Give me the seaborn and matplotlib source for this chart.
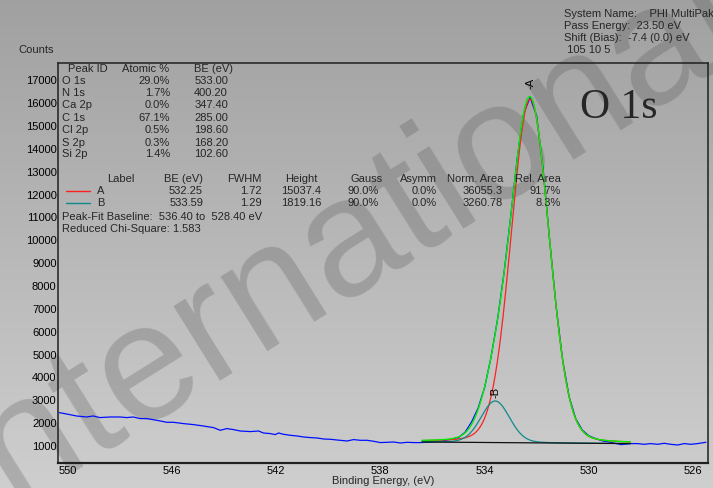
import numpy as np
import pandas as pd
import matplotlib
matplotlib.use("Agg")
import matplotlib.pyplot as plt
import seaborn as sns

# ---------------- data ----------------
# raw spectrum (binding energy eV, counts)
raw_be = [550.33, 549.99, 549.67, 549.28, 549.03, 548.77, 548.38, 548.00, 547.74, 547.49,
          547.23, 546.97, 546.59, 546.20, 545.94, 545.56, 545.18, 544.80, 544.41, 544.15,
          543.90, 543.64, 543.38, 543.00, 542.68, 542.49, 542.23, 542.04, 541.91, 541.72,
          541.46, 541.20, 540.95, 540.69, 540.43, 540.18, 539.92, 539.67, 539.28, 539.03,
          538.77, 538.51, 538.26, 538.00, 537.74, 537.49, 537.23, 536.97, 536.72, 536.46,
          536.25, 536.00, 535.75, 535.50, 535.25, 535.00, 534.75, 534.50, 534.25, 534.00,
          533.75, 533.50, 533.25, 533.00, 532.75, 532.50, 532.25, 532.00, 531.75, 531.50,
          531.25, 531.00, 530.75, 530.50, 530.25, 530.00, 529.75, 529.50, 529.25, 529.00,
          528.75, 528.38, 528.13, 527.87, 527.62, 527.36, 527.10, 526.85, 526.59, 526.33,
          526.08, 525.82, 525.50]
raw_counts = [2461, 2387, 2313, 2269, 2313, 2243, 2269, 2269, 2243, 2269,
              2199, 2199, 2125, 2037, 2037, 1980, 1936, 1875, 1805, 1687,
              1761, 1718, 1656, 1630, 1656, 1569, 1543, 1499, 1569, 1512,
              1468, 1438, 1394, 1368, 1350, 1306, 1293, 1263, 1219, 1280,
              1249, 1249, 1206, 1149, 1162, 1175, 1131, 1162, 1149, 1149,
              1160, 1175, 1200, 1250, 1300, 1370, 1600, 2050, 2650, 3550,
              4900, 6550, 8600, 11000, 13550, 15550, 16250, 15450, 13100, 10000,
              7100, 4750, 3150, 2200, 1700, 1450, 1330, 1230, 1180, 1120,
              1060, 1105, 1105, 1074, 1105, 1074, 1118, 1074, 1044, 1105,
              1074, 1105, 1162]

# peak-fit table
fit_labels = ["A", "B"]
fit_be = [532.25, 533.59]
fit_fwhm = [1.72, 1.29]
fit_height = [15037.4, 1819.16]
fit_gauss = [90.0, 90.0]
fit_asymm = [0.0, 0.0]
fit_norm_area = [36055.3, 3260.78]
fit_rel_area = [91.7, 8.3]
fit_colors = ["#ff2020", "#108a8a"]

# baseline (start/end BE and counts)
base_be = [536.40, 528.40]
base_counts = [1175, 1105]

# element table
elem_names = ["O 1s", "N 1s", "Ca 2p", "C 1s", "Cl 2p", "S 2p", "Si 2p"]
elem_atomic = [29.0, 1.7, 0.0, 67.1, 0.5, 0.3, 1.4]
elem_be = [533.00, 400.20, 347.40, 285.00, 198.60, 168.20, 102.60]

info_lines = ["System Name:    PHI MultiPak", "Pass Energy:  23.50 eV",
              "Shift (Bias):  -7.4 (0.0) eV", " 105 10 5"]

x_major = [550, 546, 542, 538, 534, 530, 526]
y_major = list(range(1000, 18000, 1000))

# ---------------- figure ----------------
sns.set_theme(style="white")
plt.rcParams['font.family'] = ['Liberation Sans', 'DejaVu Sans']

W, H = 713, 488
fig = plt.figure(figsize=(W / 100, H / 100), dpi=100)


def fx(x):
    return x / W


def fy(y):
    return 1 - y / H


# gradient background + watermark
bg = fig.add_axes([0, 0, 1, 1], zorder=-5)
grad = np.linspace(0.63, 0.81, 256)
img = np.dstack([grad[:, None]] * 3)
bg.imshow(img, aspect='auto', extent=[0, 1, 0, 1], origin='upper')
bg.set_xlim(0, 1)
bg.set_ylim(0, 1)
bg.axis('off')
bg.text(fx(340), fy(246), "International", rotation=32, ha='center', va='center',
        fontsize=120, color=(0.3, 0.3, 0.3), alpha=0.26, transform=bg.transAxes)

ax = fig.add_axes([fx(58), fy(463), fx(708) - fx(58), fy(63) - fy(463)])
ax.patch.set_alpha(0)

df_raw = pd.DataFrame({"be": raw_be, "counts": raw_counts})
sns.lineplot(data=df_raw, x="be", y="counts", ax=ax, color="#0010ff", lw=0.9,
             sort=False, estimator=None)

grid = np.linspace(base_be[0], base_be[1], 240)
baseline = np.interp(grid, base_be[::-1], base_counts[::-1])
comps = []
for c, f, h, g in zip(fit_be, fit_fwhm, fit_height, fit_gauss):
    u = ((grid - c) / f) ** 2
    gm = g / 100.0
    comps.append(h * (gm * np.exp(-4 * np.log(2) * u) + (1 - gm) / (1 + 4 * u)))
envelope = baseline + sum(comps)

for comp, col in zip(comps, fit_colors):
    sns.lineplot(x=grid, y=baseline + comp, ax=ax, color=col, lw=0.9,
                 sort=False, estimator=None)
sns.lineplot(x=grid, y=baseline, ax=ax, color="#101010", lw=0.9, sort=False, estimator=None)
sns.lineplot(x=grid, y=envelope, ax=ax, color="#00ee00", lw=1.0, sort=False, estimator=None)

# peak labels
for lab, c, h, off in zip(fit_labels, fit_be, fit_height, [7, 2.5]):
    top = np.interp(c, base_be[::-1], base_counts[::-1]) + h
    ax.annotate("-" + lab, xy=(c, top), xytext=(0, off), textcoords='offset points',
                rotation=90, ha='center', va='bottom', fontsize=8, color='black')

ax.set_xlim(550.38, 525.42)
ax.set_ylim(256, 17757)
ax.set_xticks(x_major)
ax.set_xticks(list(range(526, 551, 2)), minor=True)
ax.set_yticks(y_major)
ax.set_xlabel("")
ax.set_ylabel("")
ax.tick_params(axis='both', which='both', direction='in', length=5, width=1,
               colors='#202020', labelcolor='black', labelsize=8)
ax.tick_params(axis='x', which='both', pad=2)
ax.tick_params(axis='y', which='both', pad=1)
for s in ax.spines.values():
    s.set_visible(True)
    s.set_color('#202020')
    s.set_linewidth(1.1)
ax.spines['bottom'].set_linewidth(1.6)

# texts
fs = 8
fig.text(fx(18), fy(50), "Counts", fontsize=fs, va='center', ha='left')
fig.text(fx(383), fy(481), "Binding Energy, (eV)", fontsize=fs, va='center', ha='center')
for i, line in enumerate(info_lines):
    fig.text(fx(564), fy(14 + 12 * i), line, fontsize=fs, va='center', ha='left')
fig.text(fx(580), fy(108), "O 1s", fontsize=30, va='center', ha='left',
         family=['Liberation Serif', 'DejaVu Serif'])

# element table
fig.text(fx(68), fy(69), "Peak ID", fontsize=fs, va='center', ha='left')
fig.text(fx(169), fy(69), "Atomic %", fontsize=fs, va='center', ha='right')
fig.text(fx(233), fy(69), "BE (eV)", fontsize=fs, va='center', ha='right')
row_y = [81, 93, 105, 118, 130, 143, 154]
for yy, n, a, b in zip(row_y, elem_names, elem_atomic, elem_be):
    fig.text(fx(62), fy(yy), n, fontsize=fs, va='center', ha='left')
    fig.text(fx(170), fy(yy), f"{a:.1f}%", fontsize=fs, va='center', ha='right')
    fig.text(fx(228), fy(yy), f"{b:.2f}", fontsize=fs, va='center', ha='right')

# fit table
hdr = [("Label", 135), ("BE (eV)", 203), ("FWHM", 262), ("Height", 318), ("Gauss", 383),
       ("Asymm", 437), ("Norm. Area", 503), ("Rel. Area", 561)]
for t, xr in hdr:
    fig.text(fx(xr), fy(179), t, fontsize=fs, va='center', ha='right')
for i, (lab, b, fw, hh, g, asy, na, ra, col) in enumerate(zip(
        fit_labels, fit_be, fit_fwhm, fit_height, fit_gauss, fit_asymm,
        fit_norm_area, fit_rel_area, fit_colors)):
    yy = 191 + 12 * i
    fig.add_artist(plt.Line2D([fx(66), fx(90)], [fy(yy), fy(yy)], color=col, lw=1.0))
    fig.text(fx(97), fy(yy), lab, fontsize=fs, va='center', ha='left')
    vals = [f"{b:.2f}", f"{fw:.2f}", f"{hh:g}", f"{g:.1f}%", f"{asy:.1f}%",
            f"{na:g}", f"{ra:.1f}%"]
    for v, xr in zip(vals, [203, 262, 321, 379, 437, 503, 561]):
        fig.text(fx(xr), fy(yy), v, fontsize=fs, va='center', ha='right')

fig.text(fx(62), fy(217), "Peak-Fit Baseline:  536.40 to  528.40 eV", fontsize=fs,
         va='center', ha='left')
fig.text(fx(62), fy(229), "Reduced Chi-Square: 1.583", fontsize=fs, va='center', ha='left')

fig.savefig("out.png", dpi=100)
